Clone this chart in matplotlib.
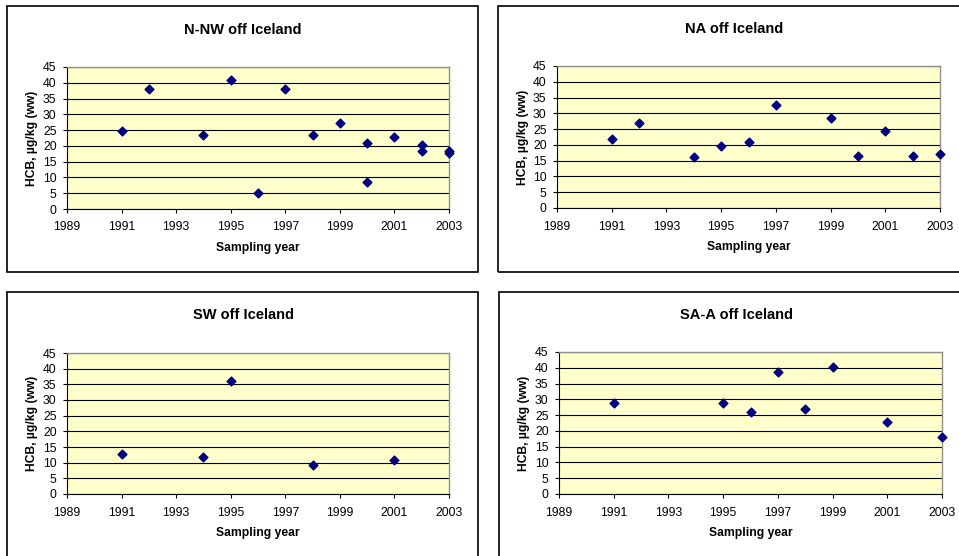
import matplotlib.pyplot as plt
from matplotlib.patches import Rectangle

plt.rcParams['font.family'] = ['Liberation Sans', 'DejaVu Sans']

# data
nnw_years = [1991, 1992, 1994, 1995, 1996, 1997, 1998, 1999, 2000, 2000, 2001, 2002, 2002, 2003, 2003]
nnw_hcb = [24.6, 37.9, 23.5, 41.0, 5.2, 37.9, 23.6, 27.1, 20.8, 8.7, 22.7, 20.2, 18.4, 18.5, 17.7]

na_years = [1991, 1992, 1994, 1995, 1996, 1997, 1999, 2000, 2001, 2002, 2003]
na_hcb = [22.0, 27.0, 16.1, 19.7, 20.8, 32.6, 28.6, 16.6, 24.4, 16.5, 17.1]

sw_years = [1991, 1994, 1995, 1998, 2001]
sw_hcb = [12.9, 11.8, 36.0, 9.3, 10.8]

saa_years = [1991, 1995, 1996, 1997, 1998, 1999, 2001, 2003]
saa_hcb = [28.8, 28.9, 26.1, 38.8, 27.0, 40.1, 22.7, 18.2]

titles = ["N-NW off Iceland", "NA off Iceland", "SW off Iceland", "SA-A off Iceland"]
x_ticks = list(range(1989, 2004, 2))
y_ticks = list(range(0, 46, 5))

W, H = 959, 556
fig = plt.figure(figsize=(W / 100, H / 100), dpi=100)


def fx(px):
    return px / W


def fy(py):
    return 1 - py / H


# (frame l, t, r, b), (axes l, t, r, b), title x, title y, xlabel y, ylabel x
panels = [
    ((7, 6, 478, 272), (67, 67, 449, 209), 243, 30, 248, 32),
    ((498, 6, 962, 272), (557, 66, 940, 208), 734, 29, 247, 523),
    ((7, 292, 478, 560), (67, 353, 449, 494), 243, 315, 533, 32),
    ((499, 292, 962, 560), (559, 352, 942, 494), 736, 315, 533, 524),
]
series = [(nnw_years, nnw_hcb), (na_years, na_hcb), (sw_years, sw_hcb), (saa_years, saa_hcb)]

for (frame, box, tx, ty, xly, ylx), (xs, ys), title in zip(panels, series, titles):
    fl, ft, fr, fb = frame
    fig.patches.append(Rectangle((fx(fl), fy(fb)), fx(fr - fl), (fb - ft) / H,
                                 transform=fig.transFigure, fill=False,
                                 edgecolor='black', linewidth=1.2))
    l, t, r, b = box
    ax = fig.add_axes([fx(l), fy(b), fx(r - l), (b - t) / H])
    ax.set_facecolor('#FFFFCC')
    ax.scatter(xs, ys, marker='D', s=20, color='#000080', zorder=3, clip_on=False)
    ax.set_xlim(1989, 2003)
    ax.set_ylim(0, 45)
    ax.set_xticks(x_ticks)
    ax.set_yticks(y_ticks)
    ax.tick_params(labelsize=8.8, length=3, width=0.8, direction='out')
    ax.tick_params(axis='x', pad=6)
    ax.tick_params(axis='y', pad=4.5)
    ax.grid(axis='y', color='black', linewidth=0.8)
    ax.set_axisbelow(True)
    for side in ('top', 'right'):
        ax.spines[side].set_color('#909090')
        ax.spines[side].set_linewidth(1.0)
    for side in ('left', 'bottom'):
        ax.spines[side].set_color('black')
        ax.spines[side].set_linewidth(0.8)
    fig.text(fx(tx), fy(ty), title, ha='center', va='center', fontsize=10.5, fontweight='bold')
    fig.text(fx((l + r) / 2), fy(xly), "Sampling year", ha='center', va='center',
             fontsize=8.7, fontweight='bold')
    fig.text(fx(ylx), fy((t + b) / 2), "HCB, µg/kg (ww)", ha='center', va='center',
             rotation=90, fontsize=8.7, fontweight='bold')

fig.savefig("out.png", dpi=100)
